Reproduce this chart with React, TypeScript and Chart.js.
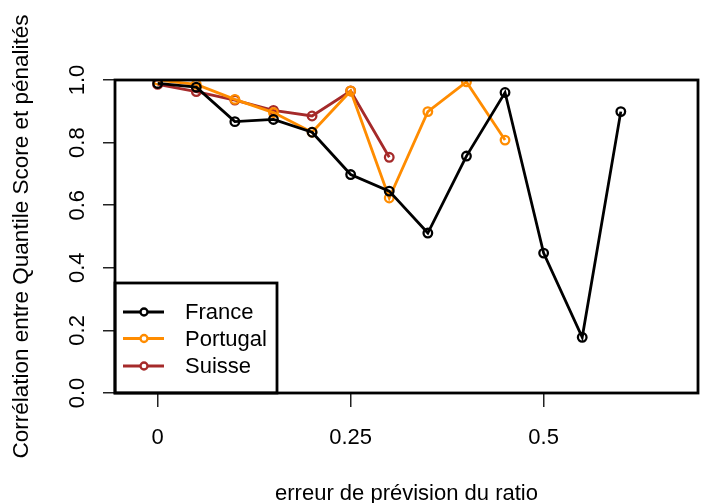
import { useEffect, useRef } from "react";
import { Chart, registerables } from "chart.js";

Chart.register(...registerables);

// ---- data ----
const errorSteps = [0, 0.05, 0.1, 0.15, 0.2, 0.25, 0.3, 0.35, 0.4, 0.45, 0.5, 0.55, 0.6];
const franceValues = [0.989, 0.977, 0.867, 0.874, 0.833, 0.698, 0.645, 0.511, 0.757, 0.96, 0.447, 0.178, 0.899];
const portugalValues = [1.0, 0.986, 0.938, 0.896, 0.833, 0.965, 0.623, 0.899, 0.994, 0.808];
const suisseValues = [0.986, 0.963, 0.936, 0.903, 0.885, 0.965, 0.753];
const seriesNames = ["France", "Portugal", "Suisse"];
const seriesColors = ["#000000", "#FF8C00", "#A52A2A"];
const xTickValues = [0, 0.25, 0.5];
const yTickValues = [0, 0.2, 0.4, 0.6, 0.8, 1.0];
const xTitle = "erreur de prévision du ratio";
const yTitle = "Corrélation entre Quantile Score et pénalités";

const FONT = "'Liberation Sans', Arial, sans-serif";

const toPoints = (vals: number[]) => vals.map((v, i) => ({ x: errorSteps[i], y: v }));

const framePlugin = {
  id: "rframe",
  afterDatasetsDraw(chart: any) {
    const { ctx, chartArea } = chart;
    const { left, top, right, bottom } = chartArea;
    ctx.save();
    // legend box (bottom-left, inside plot region)
    const lw = 162;
    const lh = 110;
    const lx = left;
    const ly = bottom - lh;
    ctx.fillStyle = "#ffffff";
    ctx.fillRect(lx, ly, lw, lh);
    ctx.lineWidth = 2.8;
    ctx.strokeStyle = "#000";
    ctx.strokeRect(lx, ly, lw, lh);
    const rowY = [ly + 29, ly + 55.5, ly + 83];
    chart.data.datasets.forEach((ds: any, i: number) => {
      const y = rowY[i];
      ctx.strokeStyle = ds.borderColor;
      ctx.lineWidth = 2.8;
      ctx.beginPath();
      ctx.moveTo(lx + 8, y);
      ctx.lineTo(lx + 49, y);
      ctx.stroke();
      ctx.beginPath();
      ctx.arc(lx + 29, y, 3.5, 0, Math.PI * 2);
      ctx.fillStyle = "#fff";
      ctx.fill();
      ctx.lineWidth = 2.3;
      ctx.stroke();
      ctx.fillStyle = "#000";
      ctx.font = `22px ${FONT}`;
      ctx.textBaseline = "middle";
      ctx.textAlign = "left";
      ctx.fillText(ds.label, lx + 70, y + 1);
    });
    // plot frame
    ctx.lineWidth = 2.8;
    ctx.strokeStyle = "#000";
    ctx.strokeRect(left, top, right - left, bottom - top);
    ctx.restore();
  },
};

export default function App() {
  const ref = useRef<HTMLCanvasElement>(null);
  useEffect(() => {
    if (!ref.current) return;
    const chart = new Chart(ref.current, {
      type: "line",
      data: {
        datasets: [franceValues, portugalValues, suisseValues].map((vals, i) => ({
          label: seriesNames[i],
          data: toPoints(vals),
          borderColor: seriesColors[i],
          backgroundColor: "rgba(0,0,0,0)",
          borderWidth: 2.8,
          pointRadius: 4.3,
          pointBorderWidth: 2.3,
          pointBackgroundColor: "rgba(255,255,255,0)",
          pointBorderColor: seriesColors[i],
          tension: 0,
        })),
      },
      options: {
        animation: false,
        responsive: false,
        events: [],
        layout: { padding: { left: 0, top: 80, right: 23, bottom: 0 } },
        plugins: { legend: { display: false }, tooltip: { enabled: false } },
        scales: {
          x: {
            type: "linear",
            min: -0.0553,
            max: 0.7,
            afterBuildTicks: (scale: any) => {
              scale.ticks = xTickValues.map((v) => ({ value: v }));
            },
            afterFit: (scale: any) => {
              scale.height = 110;
            },
            grid: { drawOnChartArea: false, drawTicks: true, tickLength: 14, color: "#222", lineWidth: 1.5 },
            border: { display: false },
            ticks: {
              color: "#000",
              font: { family: FONT, size: 22, lineHeight: 1 },
              padding: 20,
              maxRotation: 0,
              minRotation: 0,
              autoSkip: false,
              callback: (v: any) => String(v),
            },
            title: {
              display: true,
              text: xTitle,
              color: "#000",
              font: { family: FONT, size: 22, lineHeight: 1 },
              padding: { top: 0, bottom: -2 },
            },
          },
          y: {
            type: "linear",
            min: 0,
            max: 1,
            afterBuildTicks: (scale: any) => {
              scale.ticks = yTickValues.map((v) => ({ value: v }));
            },
            afterFit: (scale: any) => {
              scale.width = 115;
            },
            grid: { drawOnChartArea: false, drawTicks: true, tickLength: 12, color: "#222", lineWidth: 1.5 },
            border: { display: false },
            ticks: {
              color: "#000",
              font: { family: FONT, size: 22, lineHeight: 1 },
              padding: 10,
              minRotation: 90,
              maxRotation: 90,
              crossAlign: "center",
              autoSkip: false,
              callback: (v: any) => Number(v).toFixed(1),
            },
            title: {
              display: true,
              text: yTitle,
              color: "#000",
              font: { family: FONT, size: 22.5, lineHeight: 1 },
              padding: { top: 11, bottom: 0 },
            },
          },
        },
      } as any,
      plugins: [framePlugin],
    });
    return () => chart.destroy();
  }, []);
  return (
    <div style={{ position: "fixed", left: 0, top: 0, width: 721, height: 503, background: "#fff" }}>
      <canvas ref={ref} width={721} height={503} style={{ display: "block" }} />
    </div>
  );
}
